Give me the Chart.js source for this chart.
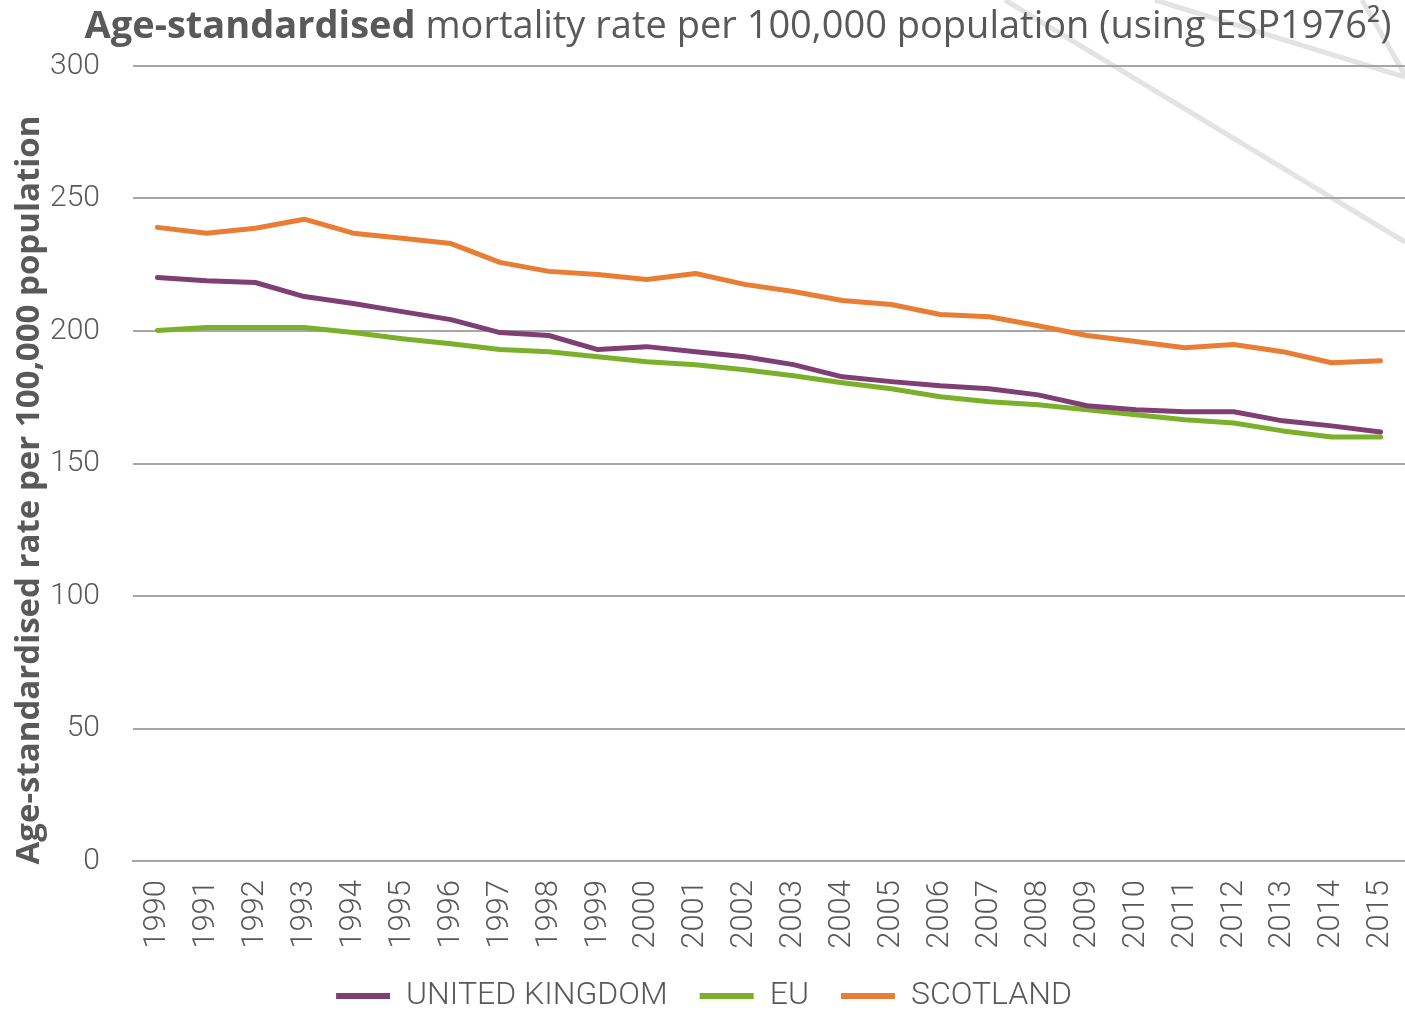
<!DOCTYPE html>
<html>
<head>
<meta charset="utf-8">
<script src="https://cdn.jsdelivr.net/npm/chart.js@4"></script>
<style>
  html, body { margin: 0; padding: 0; background: #ffffff; }
  #wrap { width: 1405px; height: 1010px; position: relative; }
</style>
</head>
<body>
<div id="wrap"><canvas id="c" width="1405" height="1010"></canvas></div>
<script>
const years = ['1990','1991','1992','1993','1994','1995','1996','1997','1998','1999','2000','2001','2002','2003','2004','2005','2006','2007','2008','2009','2010','2011','2012','2013','2014','2015'];
const unitedKingdom = [220.2,219,218.3,213,210.4,207.3,204.3,199.4,198.3,193,194.1,192.2,190.3,187.3,182.7,180.9,179.3,178.2,175.9,171.8,170.3,169.5,169.5,166.1,164.2,161.9];
const eu = [200.2,201.3,201.3,201.3,199.4,197.1,195.2,193,192.2,190.3,188.4,187.3,185.4,183.1,180.5,178.2,175.2,173.3,172.2,170.3,168.4,166.5,165.3,162.3,160,160];
const scotland = [239.1,236.9,238.8,242.2,236.9,235,233,225.9,222.5,221.3,219.4,221.7,217.6,214.9,211.5,210,206.2,205.4,202,198.3,196,193.7,194.9,192.2,188,188.8];
const seriesNames = ['UNITED KINGDOM','EU','SCOTLAND'];
const seriesColors = ['#7f3f75','#7bb02b','#e87d33'];
const yTicks = [0,50,100,150,200,250,300];
const titleBold = 'Age-standardised';
const titleRest = ' mortality rate per 100,000 population (using ESP1976²)';
const yTitle = 'Age-standardised rate per 100,000 population';

const textColor = '#595959';

const decoPlugin = {
  id: 'deco',
  beforeDraw(chart) {
    const ctx = chart.ctx;
    ctx.save();
    ctx.strokeStyle = 'rgba(200,200,200,0.5)';
    ctx.lineWidth = 5;
    ctx.beginPath();
    ctx.moveTo(1005, 0); ctx.lineTo(1405, 242);
    ctx.moveTo(1155, 0); ctx.lineTo(1405, 77);
    ctx.moveTo(1362, 0); ctx.lineTo(1405, 75);
    ctx.stroke();
    ctx.restore();
  },
  afterDraw(chart) {
    const ctx = chart.ctx;
    ctx.save();
    ctx.fillStyle = textColor;
    ctx.textBaseline = 'alphabetic';
    ctx.textAlign = 'left';
    const fb = 'bold 38px "Open Sans"';
    const fn = '38px "Open Sans"';
    ctx.font = fb;
    const wb = ctx.measureText(titleBold).width;
    ctx.font = fn;
    const wn = ctx.measureText(titleRest).width;
    const cx = 738;
    const x = cx - (wb + wn) / 2;
    const y = 38;
    ctx.font = fb;
    ctx.fillText(titleBold, x, y);
    ctx.font = fn;
    ctx.fillText(titleRest, x + wb, y);

    // y-axis title
    ctx.translate(30, 490);
    ctx.rotate(-Math.PI / 2);
    ctx.textAlign = 'center';
    ctx.textBaseline = 'middle';
    ctx.font = 'bold 33px "Open Sans"';
    ctx.fillText(yTitle, 0, 0);
    ctx.restore();
  }
};

const datasets = [unitedKingdom, eu, scotland].map((d, i) => ({
  label: seriesNames[i],
  data: d,
  borderColor: seriesColors[i],
  backgroundColor: seriesColors[i],
  borderWidth: 5,
  pointRadius: 0,
  tension: 0,
  fill: false,
  borderCapStyle: 'round',
  borderJoinStyle: 'round'
}));

new Chart(document.getElementById('c'), {
  type: 'line',
  data: { labels: years, datasets },
  plugins: [decoPlugin],
  options: {
    responsive: false,
    animation: false,
    layout: { padding: { top: 66, right: -3, left: 0, bottom: 0 } },
    plugins: {
      title: { display: false },
      tooltip: { enabled: false },
      legend: {
        position: 'bottom',
        maxHeight: 62,
        labels: {
          boxWidth: 54,
          boxHeight: 6,
          padding: 32,
          color: textColor,
          font: { family: 'Roboto', size: 32, weight: '300' },
          generateLabels(chart) {
            return chart.data.datasets.map((ds, i) => ({
              text: ds.label,
              fillStyle: ds.borderColor,
              strokeStyle: ds.borderColor,
              lineWidth: 0,
              fontColor: textColor,
              datasetIndex: i,
              hidden: false
            }));
          }
        }
      }
    },
    scales: {
      x: {
        offset: true,
        grid: { display: false, drawTicks: false },
        border: { display: true, color: '#a6a6a6', width: 2 },
        ticks: {
          color: textColor,
          font: { family: 'Roboto', size: 31, weight: '300' },
          minRotation: 90,
          maxRotation: 90,
          padding: 19,
          autoSkip: false
        },
        afterFit(axis) { axis.paddingLeft = 0; axis.paddingRight = 0; axis.height = 87; }
      },
      y: {
        min: 0,
        max: 300,
        afterBuildTicks(axis) { axis.ticks = yTicks.map(v => ({ value: v })); },
        afterFit(axis) { axis.width = 133; },
        grid: { color: '#a6a6a6', lineWidth: 2, drawTicks: false },
        border: { display: false },
        ticks: {
          color: textColor,
          font: { family: 'Roboto', size: 30, weight: '300' },
          padding: 33
        },
        title: { display: false }
      }
    }
  }
});
</script>
</body>
</html>
